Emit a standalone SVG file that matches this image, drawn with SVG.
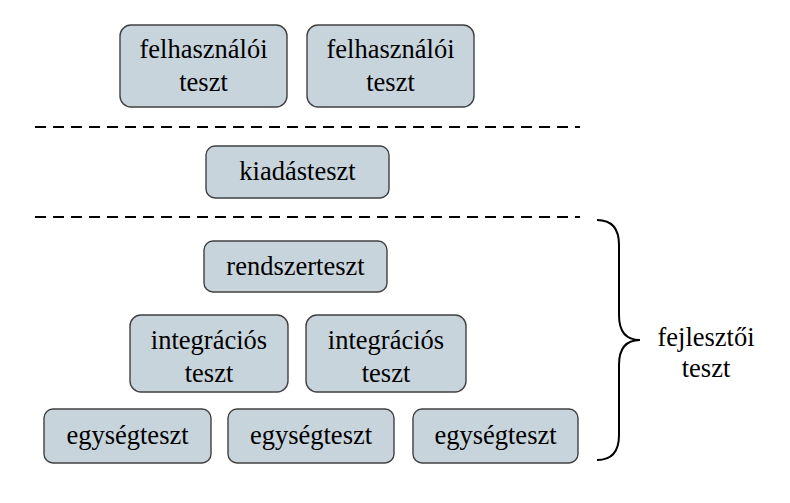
<svg xmlns="http://www.w3.org/2000/svg" width="790" height="503" viewBox="0 0 790 503">
<style>
.box{fill:#c8d4dc;stroke:#404040;stroke-width:1.4}
.t{font-family:"Liberation Serif","Times New Roman","DejaVu Serif",serif;font-size:26.5px;fill:#000;text-anchor:middle}
.dash{stroke:#000;stroke-width:2;stroke-dasharray:11 7;fill:none}
</style>
<rect width="790" height="503" fill="#fff"/>
<g id="felhasznaloi1"><rect class="box" x="120" y="25" width="167" height="82" rx="11"/><text class="t" x="203.5" y="58">felhasználói</text><text class="t" x="203.5" y="91">teszt</text></g>
<g id="felhasznaloi2"><rect class="box" x="307" y="25" width="167" height="82" rx="11"/><text class="t" x="390.5" y="58">felhasználói</text><text class="t" x="390.5" y="91">teszt</text></g>
<g id="kiadasteszt"><rect class="box" x="206" y="146" width="183" height="52" rx="9"/><text class="t" x="297.5" y="180">kiadásteszt</text></g>
<g id="rendszerteszt"><rect class="box" x="204" y="241" width="183" height="51" rx="9"/><text class="t" x="295.5" y="275">rendszerteszt</text></g>
<g id="integracios1"><rect class="box" x="130" y="315" width="158" height="77" rx="11"/><text class="t" x="209" y="349">integrációs</text><text class="t" x="209" y="382">teszt</text></g>
<g id="integracios2"><rect class="box" x="306" y="315" width="160" height="77" rx="11"/><text class="t" x="386" y="349">integrációs</text><text class="t" x="386" y="382">teszt</text></g>
<g id="egyseg1"><rect class="box" x="44" y="409" width="167" height="54" rx="9"/><text class="t" x="127.5" y="444">egységteszt</text></g>
<g id="egyseg2"><rect class="box" x="228" y="409" width="166" height="54" rx="9"/><text class="t" x="311" y="444">egységteszt</text></g>
<g id="egyseg3"><rect class="box" x="413" y="409" width="165" height="54" rx="9"/><text class="t" x="495.5" y="444">egységteszt</text></g>
<g id="connectors">
<line class="dash" x1="35" y1="127" x2="580" y2="127"/>
<line class="dash" x1="35" y1="217" x2="580" y2="217"/>
<path d="M597 220 Q619 220 619 245 L619 315 Q619 340 640 340 Q619 340 619 365 L619 435 Q619 460 597 460" fill="none" stroke="#000" stroke-width="2"/>
</g>
<g id="fejlesztoi"><text class="t" x="706" y="346">fejlesztői</text><text class="t" x="706" y="377">teszt</text></g>
</svg>
